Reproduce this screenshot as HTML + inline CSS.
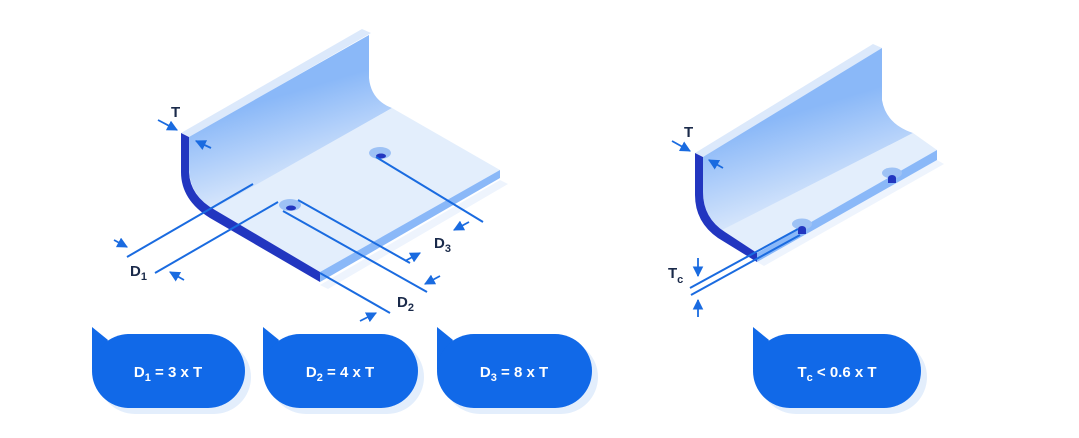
<!DOCTYPE html>
<html><head><meta charset="utf-8"><style>
html,body{margin:0;padding:0;background:#fff;width:1079px;height:438px;overflow:hidden}
svg{display:block}
text{font-family:"Liberation Sans",sans-serif}
</style></head><body>
<svg width="1079" height="438" viewBox="0 0 1079 438" xmlns="http://www.w3.org/2000/svg">
<defs>
<linearGradient id="wall" x1="0" y1="0" x2="0.35" y2="1">
<stop offset="0" stop-color="#8ab8f8"/><stop offset="0.45" stop-color="#8ab8f8"/><stop offset="1" stop-color="#e4eefc"/>
</linearGradient>
<marker id="ah" viewBox="0 0 10 10" refX="9" refY="5" markerWidth="6" markerHeight="6" orient="auto-start-reverse">
<path d="M0,0 L10,5 L0,10 z" fill="#1a6be0"/>
</marker>
</defs>

<!-- LEFT PART -->
<g>
<!-- shadow -->
<path d="M320,285 L500,180 L508,184 L328,289 Z" fill="#eef4fd"/>
<!-- wall cap -->
<path d="M181,133 L362,29 L371,33 L190,137 Z" fill="#dce9fb"/>
<!-- wall face -->
<path d="M189,137 L369,35 L369,78 Q371,100 392,108 L215,210 Q190,196 189,170 Z" fill="url(#wall)"/>
<!-- floor -->
<path d="M213,209 L392,108 L500,170 L320,272 Z" fill="#e3eefc"/>
<!-- floor front edge -->
<path d="M320,272 L500,170 L500,178 L320,282 Z" fill="#8ab8f8"/>
<!-- dark edge -->
<path d="M181,133 L189,137 L189,172 Q190,196 215,210 L320,272 L320,282 L210,218 Q181,200 181,172 Z" fill="#2236c0"/>
<!-- holes -->
<ellipse cx="380" cy="153" rx="11" ry="6" fill="#9ec2f5"/>
<ellipse cx="381" cy="156" rx="5" ry="2.5" fill="#2236c0"/>
<ellipse cx="290" cy="205" rx="11" ry="6" fill="#9ec2f5"/>
<ellipse cx="291" cy="208" rx="5" ry="2.5" fill="#2236c0"/>
<!-- dimension lines -->
<g stroke="#1a6be0" stroke-width="2" fill="none">
<line x1="127" y1="257" x2="253" y2="184"/>
<line x1="155" y1="273" x2="278" y2="202"/>
<line x1="298" y1="200" x2="410" y2="263"/>
<line x1="283" y1="211" x2="427" y2="292"/>
<line x1="320" y1="273" x2="390" y2="313"/>
<line x1="376" y1="157" x2="483" y2="222"/>
</g>
<g stroke="#1a6be0" stroke-width="1.8" marker-end="url(#ah)">
<line x1="158" y1="120" x2="177" y2="130"/>
<line x1="211" y1="148" x2="196" y2="141"/>
<line x1="114" y1="240" x2="127" y2="247"/>
<line x1="184" y1="280" x2="170" y2="272"/>
<line x1="360" y1="321" x2="376" y2="313"/>
<line x1="440" y1="276" x2="425" y2="284"/>
<line x1="405" y1="261" x2="420" y2="253"/>
<line x1="469" y1="222" x2="454" y2="230"/>
</g>
<g fill="#1a2a4a" font-size="15" font-weight="bold">
<text x="171" y="117">T</text>
<text x="130" y="276">D<tspan font-size="11" dy="4">1</tspan></text>
<text x="434" y="248">D<tspan font-size="11" dy="4">3</tspan></text>
<text x="397" y="307">D<tspan font-size="11" dy="4">2</tspan></text>
</g>
</g>

<!-- RIGHT PART -->
<g>
<path d="M757,262 L937,160 L944,164 L764,266 Z" fill="#eef4fd"/>
<path d="M695,153 L873,44 L882,48 L704,157 Z" fill="#dce9fb"/>
<path d="M703,157 L882,48 L882,100 Q886,124 913,133 L725,232 Q703,218 703,192 Z" fill="url(#wall)"/>
<path d="M722,230 L913,133 L937,150 L757,253 Z" fill="#e3eefc"/>
<path d="M757,253 L937,150 L937,160 L757,262 Z" fill="#8ab8f8"/>
<path d="M695,153 L703,157 L703,192 Q703,218 725,232 L757,253 L757,262 L718,238 Q695,222 695,195 Z" fill="#2236c0"/>
<ellipse cx="802" cy="224" rx="10" ry="5.5" fill="#9ec2f5"/>
<path d="M798,229 a4,3 0 0 1 8,0 l0,5 l-8,0 z" fill="#2236c0"/>
<ellipse cx="892" cy="173" rx="10" ry="5.5" fill="#9ec2f5"/>
<path d="M888,178 a4,3 0 0 1 8,0 l0,5 l-8,0 z" fill="#2236c0"/>
<g stroke="#1a6be0" stroke-width="2" fill="none">
<line x1="690" y1="288" x2="798" y2="229"/>
<line x1="691" y1="295" x2="800" y2="235"/>
</g>
<g stroke="#1a6be0" stroke-width="1.8" marker-end="url(#ah)">
<line x1="672" y1="141" x2="690" y2="151"/>
<line x1="723" y1="168" x2="709" y2="160"/>
<line x1="698" y1="258" x2="698" y2="276"/>
<line x1="698" y1="317" x2="698" y2="300"/>
</g>
<g fill="#1a2a4a" font-size="15" font-weight="bold">
<text x="684" y="137">T</text>
<text x="668" y="278">T<tspan font-size="11" dy="5">c</tspan></text>
</g>
</g>

<!-- BUBBLES -->
<g>
<g transform="translate(92,0)">
<rect x="6" y="340" width="153" height="74" rx="37" fill="#e3eefc"/>
<path d="M0,327 L0,370 L16,340 Z" fill="#1169e8"/>
<rect x="0" y="334" width="153" height="74" rx="37" fill="#1169e8"/>
<text x="76" y="377" fill="#fff" font-size="15" font-weight="bold" text-anchor="middle">D<tspan font-size="11" dy="4">1</tspan><tspan dy="-4"> = 3 x T</tspan></text>
</g>
<g transform="translate(263,0)">
<rect x="6" y="340" width="155" height="74" rx="37" fill="#e3eefc"/>
<path d="M0,327 L0,370 L16,340 Z" fill="#1169e8"/>
<rect x="0" y="334" width="155" height="74" rx="37" fill="#1169e8"/>
<text x="77" y="377" fill="#fff" font-size="15" font-weight="bold" text-anchor="middle">D<tspan font-size="11" dy="4">2</tspan><tspan dy="-4"> = 4 x T</tspan></text>
</g>
<g transform="translate(437,0)">
<rect x="6" y="340" width="155" height="74" rx="37" fill="#e3eefc"/>
<path d="M0,327 L0,370 L16,340 Z" fill="#1169e8"/>
<rect x="0" y="334" width="155" height="74" rx="37" fill="#1169e8"/>
<text x="77" y="377" fill="#fff" font-size="15" font-weight="bold" text-anchor="middle">D<tspan font-size="11" dy="4">3</tspan><tspan dy="-4"> = 8 x T</tspan></text>
</g>
<g transform="translate(753,0)">
<rect x="6" y="340" width="168" height="74" rx="37" fill="#e3eefc"/>
<path d="M0,327 L0,370 L16,340 Z" fill="#1169e8"/>
<rect x="0" y="334" width="168" height="74" rx="37" fill="#1169e8"/>
<text x="84" y="377" fill="#fff" font-size="15" font-weight="bold" text-anchor="middle">T<tspan font-size="11" dy="4">c</tspan><tspan dy="-4"> &lt; 0.6 x T</tspan></text>
</g>
</g>
</svg>
</body></html>
